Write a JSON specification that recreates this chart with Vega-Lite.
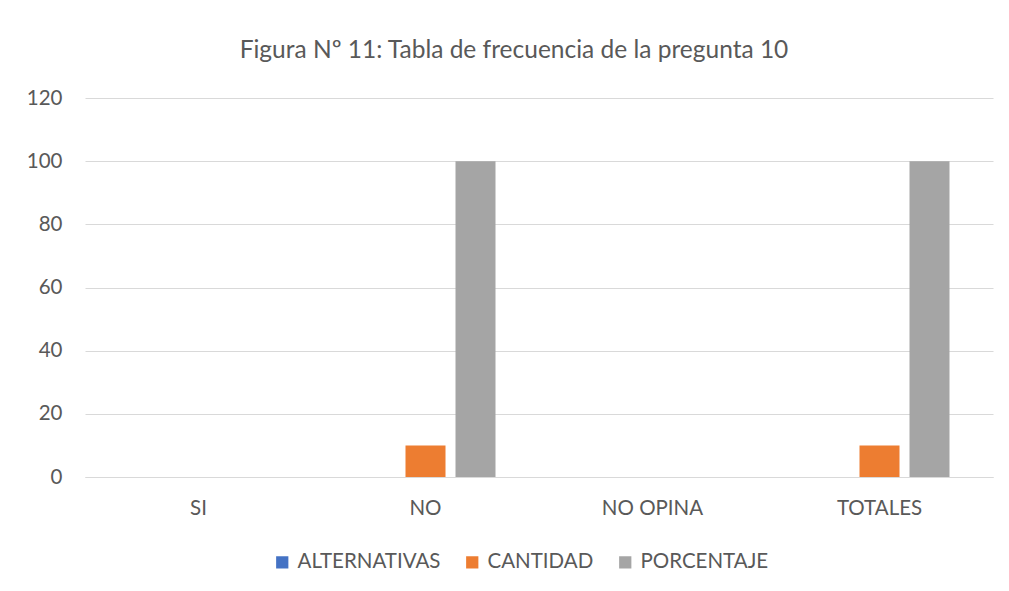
{
  "$schema": "https://vega.github.io/schema/vega-lite/v6.json",
  "autosize": "none",
  "width": 908,
  "height": 379,
  "padding": {"left": 85, "top": 98, "right": 16, "bottom": 114},
  "background": "white",
  "title": {
    "text": "Figura Nº 11: Tabla de frecuencia de la pregunta 10",
    "font": "Lato",
    "fontSize": 24.5,
    "fontWeight": "normal",
    "color": "#595959",
    "anchor": "middle",
    "dx": -25,
    "offset": 25
  },
  "data": {
    "values": [
      {"categoria": "SI", "serie": "ALTERNATIVAS", "valor": 0},
      {"categoria": "SI", "serie": "CANTIDAD", "valor": 0},
      {"categoria": "SI", "serie": "PORCENTAJE", "valor": 0},
      {"categoria": "NO", "serie": "ALTERNATIVAS", "valor": 0},
      {"categoria": "NO", "serie": "CANTIDAD", "valor": 10},
      {"categoria": "NO", "serie": "PORCENTAJE", "valor": 100},
      {"categoria": "NO OPINA", "serie": "ALTERNATIVAS", "valor": 0},
      {"categoria": "NO OPINA", "serie": "CANTIDAD", "valor": 0},
      {"categoria": "NO OPINA", "serie": "PORCENTAJE", "valor": 0},
      {"categoria": "TOTALES", "serie": "ALTERNATIVAS", "valor": 0},
      {"categoria": "TOTALES", "serie": "CANTIDAD", "valor": 10},
      {"categoria": "TOTALES", "serie": "PORCENTAJE", "valor": 100}
    ]
  },
  "mark": {"type": "bar"},
  "encoding": {
    "x": {
      "field": "categoria",
      "type": "nominal",
      "sort": ["SI", "NO", "NO OPINA", "TOTALES"],
      "scale": {"paddingInner": 0, "paddingOuter": 0},
      "axis": {
        "title": null,
        "labelAngle": 0,
        "labelFont": "Lato",
        "labelFontSize": 20.5,
        "labelColor": "#595959",
        "labelPadding": 21,
        "ticks": false,
        "domain": true,
        "domainColor": "#d9d9d9",
        "grid": false
      }
    },
    "xOffset": {
      "field": "serie",
      "type": "nominal",
      "sort": ["ALTERNATIVAS", "CANTIDAD", "PORCENTAJE"],
      "scale": {"paddingInner": 0.2, "paddingOuter": 0.87}
    },
    "y": {
      "field": "valor",
      "type": "quantitative",
      "scale": {"domain": [0, 120]},
      "axis": {
        "title": null,
        "values": [0, 20, 40, 60, 80, 100, 120],
        "labelFont": "Lato",
        "labelFontSize": 20.5,
        "labelColor": "#595959",
        "labelPadding": 23,
        "ticks": false,
        "domain": false,
        "grid": true,
        "gridColor": "#d9d9d9",
        "gridWidth": 1
      }
    },
    "color": {
      "field": "serie",
      "type": "nominal",
      "sort": ["ALTERNATIVAS", "CANTIDAD", "PORCENTAJE"],
      "scale": {
        "domain": ["ALTERNATIVAS", "CANTIDAD", "PORCENTAJE"],
        "range": ["#4472C4", "#ED7D31", "#A5A5A5"]
      },
      "legend": {
        "title": null,
        "orient": "none",
        "direction": "horizontal",
        "legendX": 187,
        "legendY": 454,
        "symbolType": "square",
        "symbolSize": 150,
        "symbolStrokeWidth": 0,
        "labelFont": "Lato",
        "labelFontSize": 20.5,
        "labelColor": "#595959",
        "labelOffset": 5,
        "columnPadding": 21
      }
    }
  },
  "config": {
    "view": {"stroke": null}
  }
}
